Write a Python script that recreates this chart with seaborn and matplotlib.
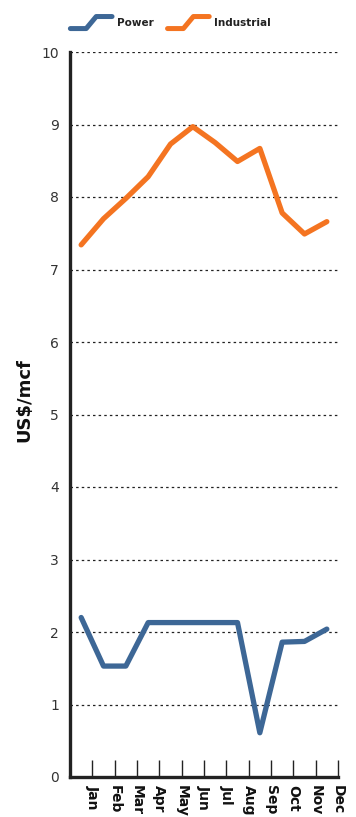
import matplotlib
matplotlib.use("Agg")
import matplotlib.pyplot as plt
from matplotlib.lines import Line2D
from matplotlib.legend_handler import HandlerBase
import pandas as pd
import seaborn as sns

months = ["Jan", "Feb", "Mar", "Apr", "May", "Jun",
          "Jul", "Aug", "Sep", "Oct", "Nov", "Dec"]
power = [2.20, 1.53, 1.53, 2.13, 2.13, 2.13, 2.13, 2.13, 0.61, 1.86, 1.87, 2.04]
industrial = [7.34, 7.70, 7.98, 8.28, 8.73, 8.97, 8.75, 8.49, 8.67, 7.78, 7.49, 7.66]
y_ticks = list(range(0, 11))

BLUE = "#3d6796"
ORANGE = "#f47421"

df = pd.DataFrame({
    "pos": list(range(len(months))) * 2,
    "price": power + industrial,
    "series": ["Power"] * len(months) + ["Industrial"] * len(months),
})

sns.set_theme(style="white")
plt.rcParams["font.family"] = ["DejaVu Sans"]

fig = plt.figure(figsize=(3.56, 8.17), dpi=100)
ax = fig.add_axes([70 / 356, 40 / 817, 268 / 356, 725 / 817])

sns.lineplot(data=df, x="pos", y="price", hue="series",
             palette={"Power": BLUE, "Industrial": ORANGE},
             linewidth=3.8, ax=ax, legend=False, sort=False,
             solid_capstyle="round", solid_joinstyle="round")

ax.set_xlim(-0.5, len(months) - 0.5)
ax.set_ylim(0, 10)
ax.set_yticks(y_ticks)
ax.set_yticklabels([str(v) for v in y_ticks], fontsize=10, color="#333333")
ax.set_xticks([i + 0.5 for i in range(len(months))])
ax.set_xticklabels(months, rotation=-90, fontsize=10, fontweight="bold",
                   color="#111111", va="top", ha="center")
ax.tick_params(axis="x", direction="in", length=12, width=1, color="#222222",
               pad=6, bottom=True)
ax.tick_params(axis="y", length=0, pad=8)

for v in y_ticks[1:]:
    ax.plot([-0.5, 11.45], [v, v], color="#222222", linestyle=(0, (2, 2.5)),
            linewidth=0.9, zorder=0)

for side in ["top", "right"]:
    ax.spines[side].set_visible(False)
for side in ["left", "bottom"]:
    ax.spines[side].set_linewidth(2.4)
    ax.spines[side].set_color("#222222")

ax.set_xlabel("")
ax.set_ylabel("US$/mcf", fontsize=13, fontweight="bold", color="#111111")
ax.yaxis.set_label_coords(-0.135, 0.52)


class StepHandler(HandlerBase):
    """Legend key drawn as a small rising step."""

    def create_artists(self, legend, orig_handle, xdescent, ydescent,
                       width, height, fontsize, trans):
        x0, x1 = -xdescent, -xdescent + width
        y0, y1 = -ydescent - 0.3 * height, -ydescent + 1.35 * height
        xs = [x0, x0 + 0.38 * width, x0 + 0.62 * width, x1]
        ys = [y0, y0, y1, y1]
        line = Line2D(xs, ys, color=orig_handle.get_color(), linewidth=3.6,
                      solid_capstyle="round", solid_joinstyle="round",
                      transform=trans)
        return [line]


handles = [Line2D([], [], color=BLUE), Line2D([], [], color=ORANGE)]
leg = fig.legend(handles, ["Power", "Industrial"], loc="upper left",
                 bbox_to_anchor=(61 / 356, 1 - 9 / 817), ncol=2, frameon=False,
                 handler_map={Line2D: StepHandler()}, handlelength=4.0,
                 handletextpad=0.5, columnspacing=1.3,
                 prop={"size": 7.5, "weight": "bold"})
for t in leg.get_texts():
    t.set_color("#222222")

fig.savefig("out.png", dpi=100)
